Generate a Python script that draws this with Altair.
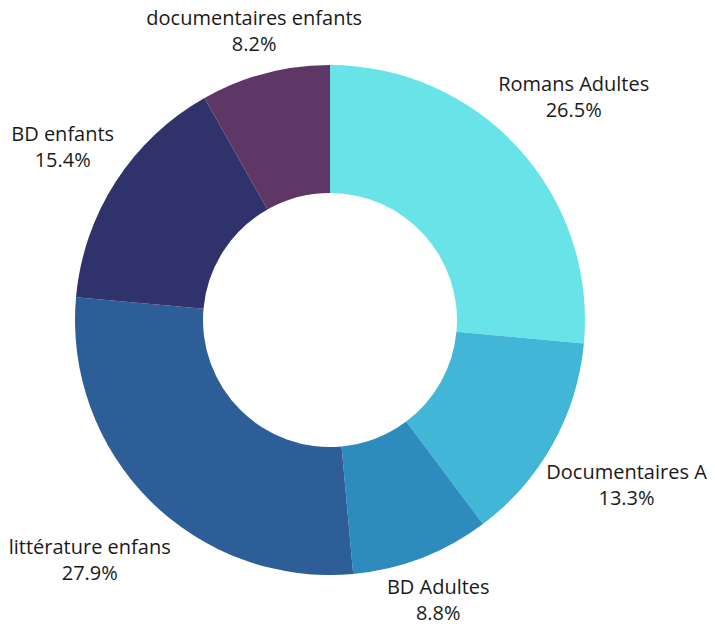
import math
import altair as alt
import pandas as pd

categories = ["Romans Adultes", "Documentaires A", "BD Adultes",
              "littérature enfans", "BD enfants", "documentaires enfants"]
values = [26.5, 13.3, 8.8, 27.9, 15.4, 8.2]
colors = ["#68E4E8", "#41B6D6", "#2E8BBD", "#2E5E98", "#30336B", "#5E3766"]

FONT_SIZE = 20
LINE_H = 26
OUTER = 255
INNER = 127
GAP = 262  # distance from centre to the nearest point of a label box

df = pd.DataFrame({
    "category": categories,
    "value": values,
    "order": list(range(len(categories))),
})
df["label"] = df["category"] + "\n" + df["value"].map(lambda v: f"{v:.1f}%")

# label layout: push each label box outward along its slice's mid-angle
total = df["value"].sum()
cum = df["value"].cumsum() - df["value"] / 2
radii = []
for name, mid in zip(df["category"], cum):
    ang = mid / total * 2 * math.pi
    s, c = abs(math.sin(ang)), abs(math.cos(ang))
    hw = len(name) * 0.5 * FONT_SIZE / 2
    hh = LINE_H
    lo, hi = 0.0, 600.0
    for _ in range(60):
        r = (lo + hi) / 2
        d = math.hypot(max(0.0, r * s - hw), max(0.0, r * c - hh))
        if d < GAP:
            lo = r
        else:
            hi = r
    radii.append(lo)
df["lr"] = radii

arcs = alt.Chart(df).mark_arc(outerRadius=OUTER, innerRadius=INNER).encode(
    theta=alt.Theta("value:Q", stack=True),
    order=alt.Order("order:Q"),
    x=alt.value(330),
    y=alt.value(320),
    color=alt.Color("category:N", scale=alt.Scale(domain=categories, range=colors), legend=None),
)

labels = alt.Chart(df).transform_joinaggregate(
    total="sum(value)"
).transform_window(
    cum="sum(value)", sort=[alt.SortField("order")], frame=[None, 0]
).transform_calculate(
    mid="2 * PI * (datum.cum - datum.value / 2) / datum.total"
).mark_text(
    fontSize=FONT_SIZE, font="Open Sans", lineBreak="\n",
    lineHeight=LINE_H, align="center", baseline="middle", dy=-LINE_H / 2,
    color="#1a1a1a"
).encode(
    theta=alt.Theta("mid:Q", scale=None),
    radius=alt.Radius("lr:Q", scale=None),
    x=alt.value(330),
    y=alt.value(320),
    text="label:N",
)

chart = (arcs + labels).properties(
    width=715, height=626,
    autosize=alt.AutoSizeParams(type="none"),
    padding=0,
).configure_view(stroke=None)

chart.save("out.html", embed_options={"renderer": "svg", "actions": False})
